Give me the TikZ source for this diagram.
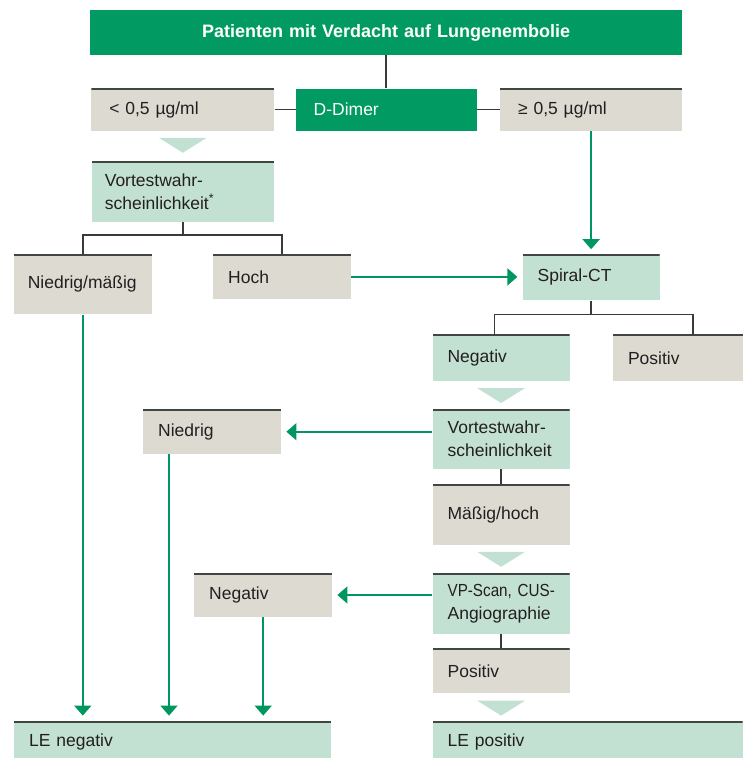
\documentclass[tikz,border=0pt]{standalone}
\usepackage{fontspec}
\setmainfont{Liberation Sans}
\newfontfamily\narrowsans[FakeStretch=0.87]{Liberation Sans}
\usepackage{xcolor}
\usetikzlibrary{positioning,calc,arrows.meta}

\definecolor{darkgreen}{HTML}{009A62}
\definecolor{palegreen}{HTML}{C3E1D3}
\definecolor{greyfill}{HTML}{DDDAD2}
\definecolor{ruleline}{HTML}{404641}
\definecolor{flowgreen}{HTML}{00965F}
\definecolor{treeline}{HTML}{3A3A3A}
\definecolor{textdark}{HTML}{231F20}

\begin{document}
\begin{tikzpicture}[x=1pt, y=1pt,
    box/.style={rectangle, inner xsep=15pt, inner ysep=0pt, align=left, text=textdark, font=\fontsize{17.5}{23}\selectfont},
    ruled/.style={path picture={\draw[line width=3.2pt, ruleline] (path picture bounding box.north west) -- (path picture bounding box.north east);}},
    greybox/.style={box, ruled, fill=greyfill},
    palebox/.style={box, ruled, fill=palegreen},
    darkbox/.style={box, fill=darkgreen, text=white},
    branch/.style={draw=treeline, line width=1.5pt},
    flowarrow/.style={draw=flowgreen, line width=1.6pt, -{Triangle[width=17pt, length=10pt]}, shorten >=5pt},
    wedge/.style={fill=palegreen}]

    \useasboundingbox (0,0) rectangle (742,-758);

    % Start
    \node[darkbox, anchor=north west, minimum height=45pt, text width=562pt, align=center, font=\fontsize{18}{23}\selectfont\bfseries] (patients) at (90,-10) {Patienten mit Verdacht auf Lungenembolie};

    % D-Dimer row
    \node[darkbox, below=33pt of patients, minimum height=42pt, text width=145pt, inner xsep=18pt] (ddimer) {D-Dimer};
    \node[greybox, left=21pt of ddimer, minimum height=42pt, text width=147pt, inner xsep=18pt] (low) {< 0,5 µg/ml};
    \node[greybox, right=23pt of ddimer, minimum height=42pt, text width=146pt, inner xsep=18pt] (high) {≥ 0,5 µg/ml};

    % Left branch: pretest probability
    \node[palebox, below=30pt of low, minimum height=61pt, text width=156pt, inner xsep=13pt] (pretest) {Vortestwahr-\\scheinlichkeit\textsuperscript{*}};
    \node[greybox, below left=32pt and 78pt of pretest.south west, anchor=north west, minimum height=60pt, text width=110pt, inner xsep=14pt] (lowmod) {Niedrig/mäßig};
    \node[greybox, right=61pt of lowmod.north east, anchor=north west, minimum height=45pt, text width=108pt] (highA) {Hoch};

    % Right column: Spiral-CT
    \node[palebox, right=171pt of highA.north east, anchor=north west, minimum height=46pt, text width=107pt] (ct) {Spiral-CT};
    \node[palebox, below left=34pt and 90pt of ct.south west, anchor=north west, minimum height=46pt, text width=107pt] (ctneg) {Negativ};
    \node[greybox, right=43pt of ctneg.north east, anchor=north west, minimum height=46pt, text width=100pt] (ctpos) {Positiv};

    \node[palebox, below=28pt of ctneg, minimum height=60pt, text width=107pt] (pretestB) {Vortestwahr-\\scheinlichkeit};
    \node[greybox, below=15pt of pretestB, minimum height=60pt, text width=107pt] (modhigh) {Mäßig/hoch};
    \node[palebox, below=28pt of modhigh, minimum height=61pt, text width=107pt] (scan) {\mbox{\narrowsans VP-Scan, CUS-}\\Angiographie};
    \node[greybox, below=14pt of scan, minimum height=45pt, text width=107pt] (scanpos) {Positiv};

    \node[greybox, left=151pt of pretestB.north west, anchor=north east, minimum height=45pt, text width=108pt] (lowB) {Niedrig};
    \node[greybox, left=100pt of scan.north west, anchor=north east, minimum height=44pt, text width=108pt] (scanneg) {Negativ};

    % Results
    \node[palebox, below=28pt of scanpos.south west, anchor=north west, minimum height=40pt, text width=280pt] (lepos) {LE positiv};
    \node[palebox, left=101pt of lepos.north west, anchor=north east, minimum height=40pt, text width=287pt] (leneg) {LE negativ};

    % Tree lines
    \draw[branch] (patients.south) -- (patients.south |- ddimer.north);
    \draw[branch] (low) -- (ddimer);
    \draw[branch] (ddimer) -- (high);
    \draw[branch] (pretest.south) -- ++(0,-13) coordinate (fork1);
    \draw[branch] (lowmod.north) |- (fork1) -| (highA.north);
    \draw[branch] (ct.south) -- ++(0,-14) coordinate (fork2);
    \draw[branch] ($(ctneg.north west)+(62,0)$) |- (fork2) -| ($(ctpos.north west)+(80,0)$);
    \draw[branch] (pretestB) -- (modhigh);
    \draw[branch] (scan) -- (scanpos);

    % Wedges
    \foreach \n in {low, ctneg, modhigh, scanpos}
        \fill[wedge] ($(\n.south)+(-24,-7)$) -- ++(48,0) -- ++(-24,-15) -- cycle;

    % Green arrows
    \draw[flowarrow] (high.south) -- (high.south |- ct.north);
    \draw[flowarrow] (highA.east) -- (highA.east -| ct.west);
    \draw[flowarrow] (pretestB.west |- lowB.east) -- (lowB.east);
    \draw[flowarrow] (scan.west |- scanneg.east) -- (scanneg.east);
    \coordinate (dropB) at ($(lowB.south west)+(26,0)$);
    \draw[flowarrow, shorten >=6pt] (lowmod.south) -- (lowmod.south |- leneg.north);
    \draw[flowarrow, shorten >=6pt] (dropB) -- (dropB |- leneg.north);
    \draw[flowarrow, shorten >=6pt] (scanneg.south) -- (scanneg.south |- leneg.north);

\end{tikzpicture}
\end{document}
